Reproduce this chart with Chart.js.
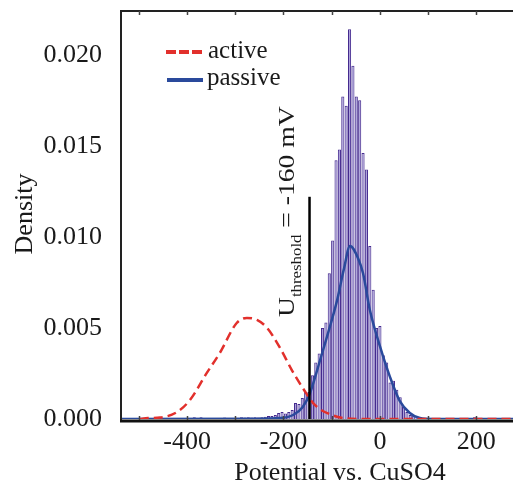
<!DOCTYPE html>
<html>
<head>
<meta charset="utf-8">
<script src="https://cdn.jsdelivr.net/npm/chart.js@4.4.1/dist/chart.umd.min.js"></script>
<style>
  html, body { margin: 0; padding: 0; background: #fff; }
  #wrap { width: 513px; height: 483px; }
</style>
</head>
<body>
<div id="wrap"><canvas id="chart" width="513" height="483"></canvas></div>
<script>
// passive histogram (density), bins of 7 mV, first bin centred at -476
const histStart = -476;
const binWidth = 7;
const passiveHist = [
    0, 0, 0, 0, 0, 0, 0.00005, 0, 0, 0,
    0, 0, 0.00005, 0.0001, 0.00005, 0.0001, 0, 0, 0, 0.00005,
    0, 0, 0.00008, 0.00005, 0, 0.00005, 0.00005, 0.0001, 0.00008, 0.0001,
    0.00008, 0.0001, 0.00008, 0.0001, 0.00012, 0.00016,
    0.00016, 0.00022, 0.00033, 0.00038, 0.0003, 0.00038, 0.0005, 0.00088, 0.00082, 0.00115,
    0.00148, 0.00148, 0.0024, 0.0031, 0.0036, 0.005, 0.0053, 0.008, 0.0098, 0.0142,
    0.0148, 0.0177, 0.0172, 0.0214, 0.0194, 0.0177, 0.0175, 0.0146, 0.0137, 0.0095,
    0.0071, 0.005, 0.0051, 0.0035, 0.0031, 0.002, 0.0021, 0.0016, 0.0012, 0.00066,
    0.00038, 0.00022, 0.00016, 0.00011, 0.00005, 0.00005, 0,
    0.00005, 0, 0, 0, 0, 0, 0, 0.00005, 0, 0,
    0, 0, 0.00005, 0.0001, 0, 0, 0, 0, 0, 0,
    0, 0, 0, 0, 0
];

// density curves, [potential, density]
const activeCurve = [
    [-498, 0], [-481, 0.00005], [-456, 0.00008], [-421, 0.00038], [-394, 0.00104],
    [-359, 0.00253], [-332, 0.00363], [-297, 0.00527], [-276, 0.00555], [-255, 0.00544],
    [-234, 0.005], [-207, 0.0039], [-183, 0.0027], [-156, 0.00154], [-135, 0.00077],
    [-100, 0.00022], [-68, 0.00003], [-30, 0], [280, 0]
];
const passiveCurve = [
    [-540, 0], [-260, 0.00002], [-207, 0.00005], [-180, 0.00022], [-160, 0.00066],
    [-145, 0.00143], [-124, 0.00324], [-110, 0.0045], [-89, 0.0065], [-75, 0.0082],
    [-62, 0.0095], [-45, 0.0088], [-35, 0.008], [-21, 0.006], [0, 0.004],
    [21, 0.0023], [41, 0.001], [62, 0.00033], [83, 0.00005], [110, 0], [280, 0]
];

const xTickMarks = [-500, -400, -300, -200, -100, 0, 100, 200];
const xTickLabels = [-400, -200, 0, 200];
const yTicks = [0, 0.005, 0.010, 0.015, 0.020];

const thresholdX = -146;
const thresholdTop = 0.0122;
const thresholdText = ['U', 'threshold', ' = -160 mV'];

const serif = "'Liberation Serif', 'Times New Roman', serif";
const ink = '#1a1a1a';
const activeColor = 'rgb(226, 48, 44)';
const passiveColor = 'rgb(42, 74, 156)';

const decor = {
    id: 'decor',
    afterDatasetsDraw(chart) {
        const { ctx, chartArea: a, scales: { x, y } } = chart;
        ctx.save();
        // threshold marker
        const tx = x.getPixelForValue(thresholdX);
        ctx.strokeStyle = '#000';
        ctx.lineWidth = 2.5;
        ctx.beginPath();
        ctx.moveTo(tx, y.getPixelForValue(thresholdTop));
        ctx.lineTo(tx, a.bottom);
        ctx.stroke();

        ctx.fillStyle = ink;
        ctx.translate(294, 317);
        ctx.rotate(-Math.PI / 2);
        ctx.scale(1.2, 1);
        ctx.textBaseline = 'alphabetic';
        ctx.textAlign = 'left';
        ctx.font = '23px ' + serif;
        ctx.fillText(thresholdText[0], 0, 0);
        let off = ctx.measureText(thresholdText[0]).width;
        ctx.font = '14px ' + serif;
        ctx.fillText(thresholdText[1], off, 7);
        off += ctx.measureText(thresholdText[1]).width;
        ctx.font = '23px ' + serif;
        ctx.fillText(thresholdText[2], off, 0);
        ctx.restore();
    },
    afterDraw(chart) {
        const { ctx, chartArea: a, scales: { x } } = chart;
        ctx.save();
        // frame
        ctx.strokeStyle = '#222';
        ctx.lineWidth = 2;
        ctx.beginPath();
        ctx.moveTo(a.left, a.bottom + 2);
        ctx.lineTo(a.left, a.top);
        ctx.lineTo(a.right + 2, a.top);
        ctx.stroke();
        ctx.strokeStyle = '#111';
        ctx.lineWidth = 3;
        ctx.beginPath();
        ctx.moveTo(a.left - 1, a.bottom + 2);
        ctx.lineTo(a.right + 2, a.bottom + 2);
        ctx.stroke();

        // inward tick marks, top and bottom
        ctx.strokeStyle = '#444';
        ctx.lineWidth = 1.5;
        xTickMarks.forEach(v => {
            const px = Math.round(x.getPixelForValue(v)) + 0.5;
            ctx.beginPath();
            ctx.moveTo(px, a.top);
            ctx.lineTo(px, a.top + 4);
            ctx.moveTo(px, a.bottom + 1);
            ctx.lineTo(px, a.bottom - 3);
            ctx.stroke();
        });

        // legend
        const ds = chart.data.datasets;
        const act = ds.find(d => d.label === 'active');
        const pas = ds.find(d => d.label === 'passive');
        ctx.lineWidth = 4;
        ctx.setLineDash([10, 3]);
        ctx.strokeStyle = act.borderColor;
        ctx.beginPath(); ctx.moveTo(166, 52); ctx.lineTo(202, 52); ctx.stroke();
        ctx.setLineDash([]);
        ctx.strokeStyle = pas.borderColor;
        ctx.beginPath(); ctx.moveTo(167, 80); ctx.lineTo(203, 80); ctx.stroke();
        ctx.fillStyle = ink;
        ctx.font = '25px ' + serif;
        ctx.textAlign = 'left';
        ctx.textBaseline = 'alphabetic';
        ctx.fillText(act.label, 208, 58);
        ctx.fillText(pas.label, 207, 85);

        // axis titles
        ctx.font = '26px ' + serif;
        ctx.textAlign = 'center';
        ctx.fillText('Potential vs. CuSO4', 340, 480);
        ctx.translate(32, 214);
        ctx.rotate(-Math.PI / 2);
        ctx.fillText('Density', 0, 0);
        ctx.restore();
    }
};

new Chart(document.getElementById('chart'), {
    type: 'bar',
    data: {
        datasets: [
            {
                type: 'line',
                label: 'active',
                data: activeCurve.map(p => ({ x: p[0], y: p[1] })),
                borderColor: activeColor,
                borderWidth: 2.5,
                borderDash: [9, 5],
                pointRadius: 0,
                cubicInterpolationMode: 'monotone',
                order: 1,
            },
            {
                type: 'line',
                label: 'passive',
                data: passiveCurve.map(p => ({ x: p[0], y: p[1] })),
                borderColor: passiveColor,
                borderWidth: 2.5,
                pointRadius: 0,
                cubicInterpolationMode: 'monotone',
                order: 2,
            },
            {
                label: 'passive histogram',
                data: passiveHist.map((v, i) => ({ x: histStart + i * binWidth, y: v })),
                backgroundColor: 'rgba(158, 146, 210, 0.85)',
                borderColor: 'rgb(68, 42, 142)',
                borderWidth: 1,
                borderSkipped: 'start',
                barPercentage: 0.92,
                categoryPercentage: 1,
                order: 3,
            },
        ],
    },
    options: {
        responsive: false,
        animation: false,
        layout: { padding: { top: 11, right: 0, left: 0, bottom: 0 } },
        plugins: { legend: { display: false }, tooltip: { enabled: false } },
        scales: {
            x: {
                type: 'linear',
                min: -537,
                max: 276,
                offset: false,
                afterFit: s => { s.height = 64; s.paddingLeft = 0; s.paddingRight = 0; },
                afterBuildTicks: s => { s.ticks = xTickMarks.map(v => ({ value: v })); },
                grid: { display: false, drawTicks: false },
                border: { display: false },
                ticks: {
                    autoSkip: false,
                    maxRotation: 0,
                    padding: 8,
                    color: ink,
                    font: { family: serif, size: 26 },
                    callback: v => xTickLabels.includes(v) ? String(v) : '',
                },
            },
            y: {
                min: 0,
                max: 0.0224,
                afterFit: s => { s.width = 121; s.paddingTop = 0; s.paddingBottom = 0; },
                afterBuildTicks: s => { s.ticks = yTicks.map(v => ({ value: v })); },
                grid: { display: false, drawTicks: false },
                border: { display: false },
                ticks: {
                    padding: 19,
                    color: ink,
                    font: { family: serif, size: 26 },
                    callback: v => v.toFixed(3),
                },
            },
        },
    },
    plugins: [decor],
});
</script>
</body>
</html>
